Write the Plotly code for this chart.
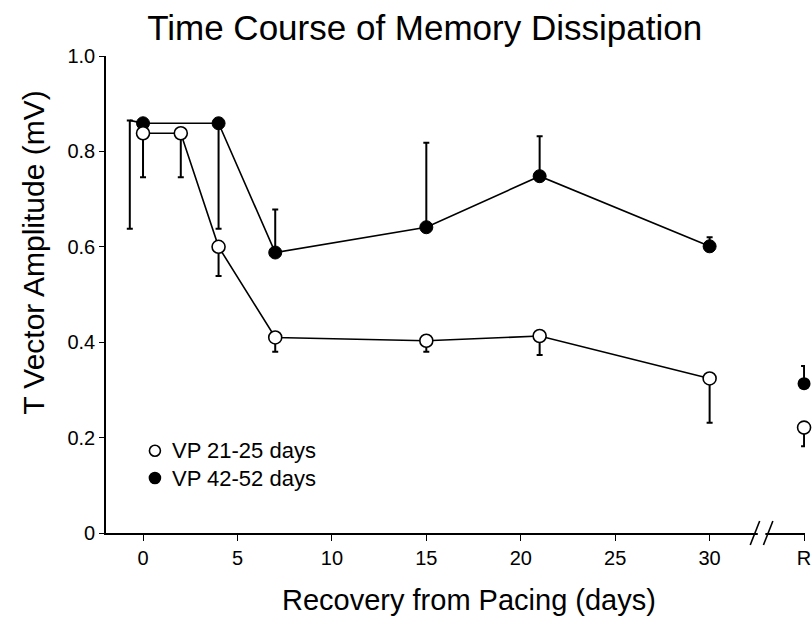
import plotly.graph_objects as go

# ---- data ----
days = [0, 2, 4, 7, 15, 21, 30]
open_vals = [0.838, 0.838, 0.600, 0.410, 0.403, 0.413, 0.324]
open_err_down = [0.092, 0.092, 0.061, 0.030, 0.023, 0.040, 0.093]

filled_days = [0, 4, 7, 15, 21, 30]
filled_vals = [0.859, 0.859, 0.588, 0.641, 0.748, 0.601]
filled_err_up = [0.0, 0.0, 0.090, 0.177, 0.084, 0.019]
filled_err_down = [0.0, 0.221, 0.0, 0.0, 0.0, 0.0]

# offset error bar drawn just left of day 0 for the filled series
stub_days = [-0.7, 0]
stub_vals = [0.865, 0.859]
stub_err_down = [0.227, 0.0]

recovery_day = [35]
recovery_open = [0.221]
recovery_open_err_down = [0.039]
recovery_filled = [0.313]
recovery_filled_err_up = [0.037]

x_tickvals = [0, 5, 10, 15, 20, 25, 30, 35]
x_ticktext = ["0", "5", "10", "15", "20", "25", "30", "R"]
y_tickvals = [0, 0.2, 0.4, 0.6, 0.8, 1.0]
y_ticktext = ["0", "0.2", "0.4", "0.6", "0.8", "1.0"]

series_names = ["VP 21-25 days", "VP 42-52 days"]

FONT = "Liberation Sans, Arial, Helvetica, sans-serif"
MS = 13

fig = go.Figure()

# offset error stub for filled series
fig.add_trace(go.Scatter(
    x=stub_days, y=stub_vals, mode="lines",
    line=dict(color="black", width=1.6),
    error_y=dict(type="data", symmetric=False, array=[0, 0], arrayminus=stub_err_down,
                 color="black", thickness=2, width=3),
    showlegend=False, cliponaxis=False, hoverinfo="skip"))

# filled series
fig.add_trace(go.Scatter(
    x=filled_days, y=filled_vals, mode="lines+markers", name=series_names[1],
    line=dict(color="black", width=1.6),
    marker=dict(symbol="circle", size=MS, color="black", line=dict(color="black", width=1)),
    error_y=dict(type="data", symmetric=False, array=filled_err_up, arrayminus=filled_err_down,
                 color="black", thickness=2, width=3),
    showlegend=False, cliponaxis=False))

# open series
fig.add_trace(go.Scatter(
    x=days, y=open_vals, mode="lines+markers", name=series_names[0],
    line=dict(color="black", width=1.6),
    marker=dict(symbol="circle", size=MS, color="white", line=dict(color="black", width=1.6)),
    error_y=dict(type="data", symmetric=False, array=[0] * len(days), arrayminus=open_err_down,
                 color="black", thickness=2, width=3),
    showlegend=False, cliponaxis=False))

# recovery points
fig.add_trace(go.Scatter(
    x=recovery_day, y=recovery_filled, mode="markers",
    marker=dict(symbol="circle", size=MS, color="black"),
    error_y=dict(type="data", symmetric=False, array=recovery_filled_err_up, arrayminus=[0],
                 color="black", thickness=2, width=3),
    showlegend=False, cliponaxis=False))
fig.add_trace(go.Scatter(
    x=recovery_day, y=recovery_open, mode="markers",
    marker=dict(symbol="circle", size=MS, color="white", line=dict(color="black", width=1.6)),
    error_y=dict(type="data", symmetric=False, array=[0], arrayminus=recovery_open_err_down,
                 color="black", thickness=2, width=3),
    showlegend=False, cliponaxis=False))

fig.update_layout(
    width=812, height=617,
    margin=dict(l=106, r=7, t=56, b=84),
    paper_bgcolor="white", plot_bgcolor="white",
    font=dict(family=FONT, color="black", size=20),
    showlegend=False,
    title=dict(text="Time Course of Memory Dissipation", x=0.523, xanchor="center",
               y=0.955, yanchor="middle", font=dict(size=35, family=FONT, color="black")),
    xaxis=dict(range=[-1.96, 35.05], tickvals=x_tickvals, ticktext=x_ticktext, automargin=False,
               showgrid=False, zeroline=False, showline=True, linecolor="black", linewidth=1.6,
               ticks="outside", ticklen=6, tickwidth=1.4, tickcolor="black",
               tickfont=dict(size=20, family=FONT, color="black")),
    yaxis=dict(range=[0, 1.0], tickvals=y_tickvals, ticktext=y_ticktext, automargin=False,
               showgrid=False, zeroline=False, showline=True, linecolor="black", linewidth=1.6,
               ticks="outside", ticklen=5, tickwidth=1.4, tickcolor="black",
               tickfont=dict(size=20, family=FONT, color="black")),
)

# axis titles
fig.add_annotation(text="T Vector Amplitude (mV)", xref="paper", yref="paper", x=-0.104, y=0.588,
                   xanchor="center", yanchor="middle", textangle=-90, showarrow=False,
                   font=dict(size=30, family=FONT, color="black"))
fig.add_annotation(text="Recovery from Pacing (days)", xref="paper", yref="paper", x=0.519, y=-0.14,
                   xanchor="center", yanchor="middle", showarrow=False,
                   font=dict(size=29, family=FONT, color="black"))

# axis break marks
for x0, x1 in [(32.15, 32.65), (32.85, 33.35)]:
    fig.add_shape(type="line", xref="x", yref="paper", x0=x0, x1=x1, y0=-0.025, y1=0.025,
                  line=dict(color="black", width=1.6))
fig.add_shape(type="rect", xref="x", yref="paper", x0=32.55, x1=32.95, y0=-0.006, y1=0.006,
              line=dict(width=0), fillcolor="white")

# legend (drawn manually for tight row spacing)
legend_y = [0.1725, 0.1153]
legend_fill = ["white", "black"]
for yy, fc, name in zip(legend_y, legend_fill, series_names):
    fig.add_shape(type="circle", xref="paper", yref="paper", xsizemode="pixel", ysizemode="pixel",
                  xanchor=0.07, yanchor=yy, x0=-5.5, x1=5.5, y0=-5.5, y1=5.5,
                  fillcolor=fc, line=dict(color="black", width=1.6))
    fig.add_annotation(text=name, xref="paper", yref="paper", x=0.0914, y=yy,
                       xanchor="left", yanchor="middle", showarrow=False,
                       font=dict(size=22, family=FONT, color="black"))

fig.write_html("out.html")
